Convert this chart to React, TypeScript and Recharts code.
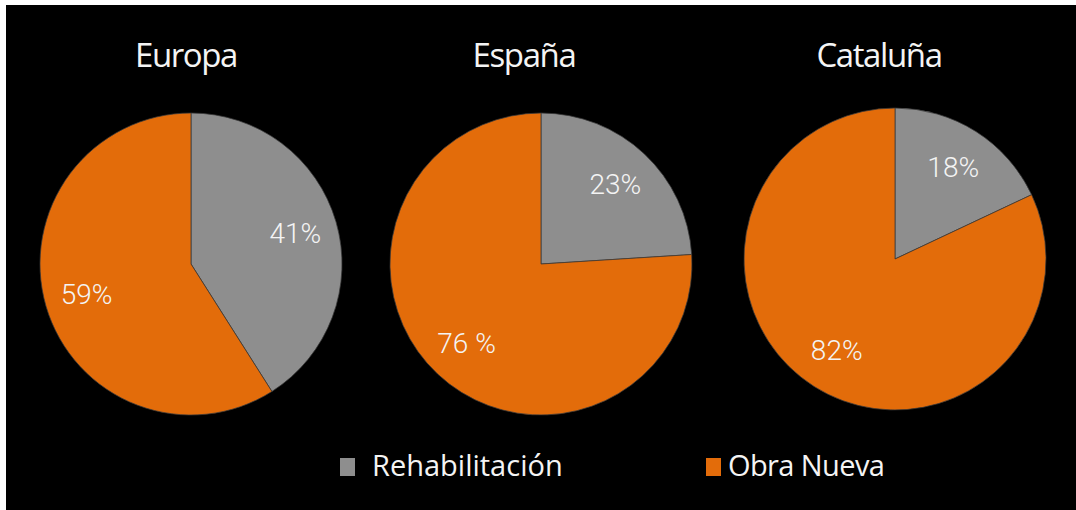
import { PieChart, Pie, Cell, Legend } from "recharts";

// values (geometry), labels as printed on the chart
const regions = ["Europa", "España", "Cataluña"];
const seriesNames = ["Rehabilitación", "Obra Nueva"];
const rehabilitacion = [41, 24, 18];
const obraNueva = [59, 76, 82];
const rehabLabels = ["41%", "23%", "18%"];
const obraLabels = ["59%", "76 %", "82%"];

const colors = ["#8E8E8E", "#E36C0A"];

// pie placement
const centers = [
  { cx: 191, cy: 264, tx: 186 },
  { cx: 541, cy: 264, tx: 524 },
  { cx: 895, cy: 259, tx: 879 },
];
const RADIUS = 151;
const RADIAN = Math.PI / 180;

const renderLabel = (labels: string[]) => (props: any) => {
  const { cx, cy, midAngle, outerRadius, index } = props;
  const r = outerRadius * 0.72;
  const x = cx + r * Math.cos(-midAngle * RADIAN);
  const y = cy + r * Math.sin(-midAngle * RADIAN);
  return (
    <text
      x={x}
      y={y}
      fill="#F4F4F4"
      textAnchor="middle"
      dominantBaseline="central"
      fontFamily="Roboto"
      fontWeight={300}
      fontSize={28}
    >
      {labels[index]}
    </text>
  );
};

const LegendContent = () => (
  <div style={{ position: "relative", width: 1076, height: 40 }}>
    {seriesNames.map((name, i) => (
      <div
        key={name}
        style={{
          position: "absolute",
          left: i === 0 ? 340 : 706,
          top: 0,
          display: "flex",
          alignItems: "center",
        }}
      >
        <span
          style={{
            display: "inline-block",
            width: 15,
            height: 18,
            background: colors[i],
            marginRight: i === 0 ? 17 : 7,
            marginTop: 4,
          }}
        />
        <span
          style={{
            fontFamily: "'Open Sans'",
            fontSize: 29,
            letterSpacing: i === 1 ? -0.6 : 0,
            color: "#F4F4F4",
            lineHeight: "40px",
          }}
        >
          {name}
        </span>
      </div>
    ))}
  </div>
);

export default function App() {
  return (
    <div
      style={{
        position: "absolute",
        left: 0,
        top: 0,
        width: 1076,
        height: 510,
        background: "#fff",
      }}
    >
      <div
        style={{
          position: "absolute",
          left: 6,
          top: 5,
          width: 1070,
          height: 505,
          background: "#000",
        }}
      />
      {regions.map((name, i) => (
        <div
          key={name}
          style={{
            position: "absolute",
            left: centers[i].tx - 150,
            width: 300,
            top: 30,
            textAlign: "center",
            fontFamily: "'Open Sans'",
            fontWeight: 500,
            fontSize: 33,
            letterSpacing: -1.4,
            color: "#F4F4F4",
            lineHeight: "50px",
          }}
        >
          {name}
        </div>
      ))}
      <div style={{ position: "absolute", left: 0, top: 0 }}>
        <PieChart
          width={1076}
          height={510}
          margin={{ top: 0, right: 0, bottom: 0, left: 0 }}
        >
          {regions.map((name, i) => {
            const data = [
              { name: seriesNames[0], value: rehabilitacion[i] },
              { name: seriesNames[1], value: obraNueva[i] },
            ];
            const labels = [rehabLabels[i], obraLabels[i]];
            return (
              <Pie
                key={name}
                data={data}
                dataKey="value"
                nameKey="name"
                cx={centers[i].cx}
                cy={centers[i].cy}
                outerRadius={RADIUS}
                startAngle={90}
                endAngle={-270}
                stroke="#3a3a3a"
                strokeWidth={0.75}
                label={renderLabel(labels)}
                labelLine={false}
                isAnimationActive={false}
              >
                {data.map((d, j) => (
                  <Cell key={d.name} fill={colors[j]} />
                ))}
              </Pie>
            );
          })}
          <Legend
            content={<LegendContent />}
            wrapperStyle={{ position: "absolute", left: 0, top: 445, width: 1076 }}
          />
        </PieChart>
      </div>
    </div>
  );
}
